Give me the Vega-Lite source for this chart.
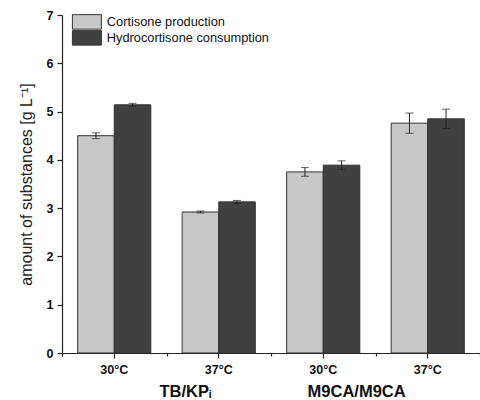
{
  "$schema": "https://vega.github.io/schema/vega-lite/v6.json",
  "width": 418,
  "height": 338,
  "autosize": "none",
  "padding": {"left": 62, "top": 15, "right": 0, "bottom": 47},
  "background": "white",
  "config": {
    "font": "Liberation Sans",
    "view": {"stroke": null},
    "axis": {"domainColor": "#222", "tickColor": "#222", "labelColor": "#111", "titleColor": "#222", "grid": false, "domainWidth": 1.2, "tickWidth": 1.2}
  },
  "data": {
    "values": [
      {"cond": "TB 30°C", "medium": "TB/KPᵢ", "series": "Cortisone production", "value": 4.50, "lo": 4.44, "hi": 4.56},
      {"cond": "TB 30°C", "medium": "TB/KPᵢ", "series": "Hydrocortisone consumption", "value": 5.14, "lo": 5.11, "hi": 5.17},
      {"cond": "TB 37°C", "medium": "TB/KPᵢ", "series": "Cortisone production", "value": 2.92, "lo": 2.90, "hi": 2.94},
      {"cond": "TB 37°C", "medium": "TB/KPᵢ", "series": "Hydrocortisone consumption", "value": 3.13, "lo": 3.10, "hi": 3.16},
      {"cond": "M9 30°C", "medium": "M9CA/M9CA", "series": "Cortisone production", "value": 3.75, "lo": 3.66, "hi": 3.84},
      {"cond": "M9 30°C", "medium": "M9CA/M9CA", "series": "Hydrocortisone consumption", "value": 3.89, "lo": 3.80, "hi": 3.98},
      {"cond": "M9 37°C", "medium": "M9CA/M9CA", "series": "Cortisone production", "value": 4.76, "lo": 4.55, "hi": 4.97},
      {"cond": "M9 37°C", "medium": "M9CA/M9CA", "series": "Hydrocortisone consumption", "value": 4.85, "lo": 4.65, "hi": 5.05}
    ]
  },
  "layer": [
    {
      "encoding": {
        "x": {
          "field": "cond", "type": "nominal",
          "sort": ["TB 30°C", "TB 37°C", "M9 30°C", "M9 37°C"],
          "scale": {"paddingInner": 0.3, "paddingOuter": 0.15},
          "axis": {"orient": "bottom", "title": null, "labelExpr": "slice(datum.label, -4)", "labelAngle": 0, "labelFontWeight": "bold", "labelFontSize": 12.5, "tickSize": 5, "labelPadding": 5}
        },
        "xOffset": {
          "field": "series", "type": "nominal",
          "sort": ["Cortisone production", "Hydrocortisone consumption"],
          "scale": {"paddingInner": 0, "paddingOuter": 0}
        }
      },
      "layer": [
        {
          "mark": {"type": "bar", "stroke": "#333", "strokeWidth": 1},
          "encoding": {
            "y": {
              "field": "value", "type": "quantitative",
              "title": "amount of substances [g L⁻¹]",
              "scale": {"domain": [0, 7], "nice": false},
              "axis": {
                "values": [0, 0.5, 1, 1.5, 2, 2.5, 3, 3.5, 4, 4.5, 5, 5.5, 6, 6.5, 7],
                "labelExpr": "datum.value % 1 === 0 ? datum.label : ''",
                "tickSize": {"condition": {"test": "datum.value % 1 === 0", "value": 5}, "value": 3},
                "labelFontWeight": "bold", "labelFontSize": 12.5, "labelPadding": 4,
                "titleFontSize": 16, "titleFontWeight": "normal", "titlePadding": 12
              }
            },
            "color": {
              "field": "series", "type": "nominal",
              "sort": ["Cortisone production", "Hydrocortisone consumption"],
              "scale": {"domain": ["Cortisone production", "Hydrocortisone consumption"], "range": ["#c8c8c8", "#404040"]},
              "legend": {
                "orient": "none", "legendX": 18.5, "legendY": 0.5, "title": null,
                "symbolType": "M-2.9,-1.45H2.9V1.45H-2.9Z", "symbolSize": 100,
                "symbolStrokeColor": "#333", "symbolStrokeWidth": 1, "symbolOpacity": 1,
                "labelFontSize": 12.8, "labelColor": "#111", "labelOffset": 13.5, "labelLimit": 400, "rowPadding": -4.5, "padding": 0
              }
            }
          }
        },
        {
          "mark": {"type": "rule", "color": "#222", "strokeWidth": 1},
          "encoding": {
            "y": {"field": "lo", "type": "quantitative", "title": "amount of substances [g L⁻¹]"},
            "y2": {"field": "hi"}
          }
        },
        {
          "mark": {"type": "tick", "color": "#222", "size": 8, "thickness": 1, "orient": "horizontal"},
          "encoding": {"y": {"field": "lo", "type": "quantitative", "title": "amount of substances [g L⁻¹]"}}
        },
        {
          "mark": {"type": "tick", "color": "#222", "size": 8, "thickness": 1, "orient": "horizontal"},
          "encoding": {"y": {"field": "hi", "type": "quantitative", "title": "amount of substances [g L⁻¹]"}}
        }
      ]
    },
    {
      "mark": {"type": "text", "text": ""},
      "encoding": {
        "x": {
          "field": "medium", "type": "nominal", "sort": ["TB/KPᵢ", "M9CA/M9CA"],
          "scale": {"type": "band", "paddingInner": 0, "paddingOuter": 0.22},
          "axis": {"orient": "bottom", "title": null, "domain": false, "ticks": false, "tickSize": 0, "labelAngle": 0, "labelFontWeight": "bold", "labelFontSize": 16.5, "labelPadding": 30, "labelColor": "#111"}
        }
      }
    },
    {
      "mark": {"type": "text", "text": ""},
      "encoding": {
        "x": {
          "field": "cond", "type": "nominal",
          "sort": ["TB 30°C", "TB 37°C", "M9 30°C", "M9 37°C"],
          "scale": {"type": "band", "paddingInner": 0, "paddingOuter": 0},
          "axis": {"orient": "bottom", "title": null, "domain": false, "labels": false, "ticks": true, "tickBand": "extent", "tickSize": 3}
        }
      }
    }
  ],
  "resolve": {"scale": {"x": "independent"}}
}
